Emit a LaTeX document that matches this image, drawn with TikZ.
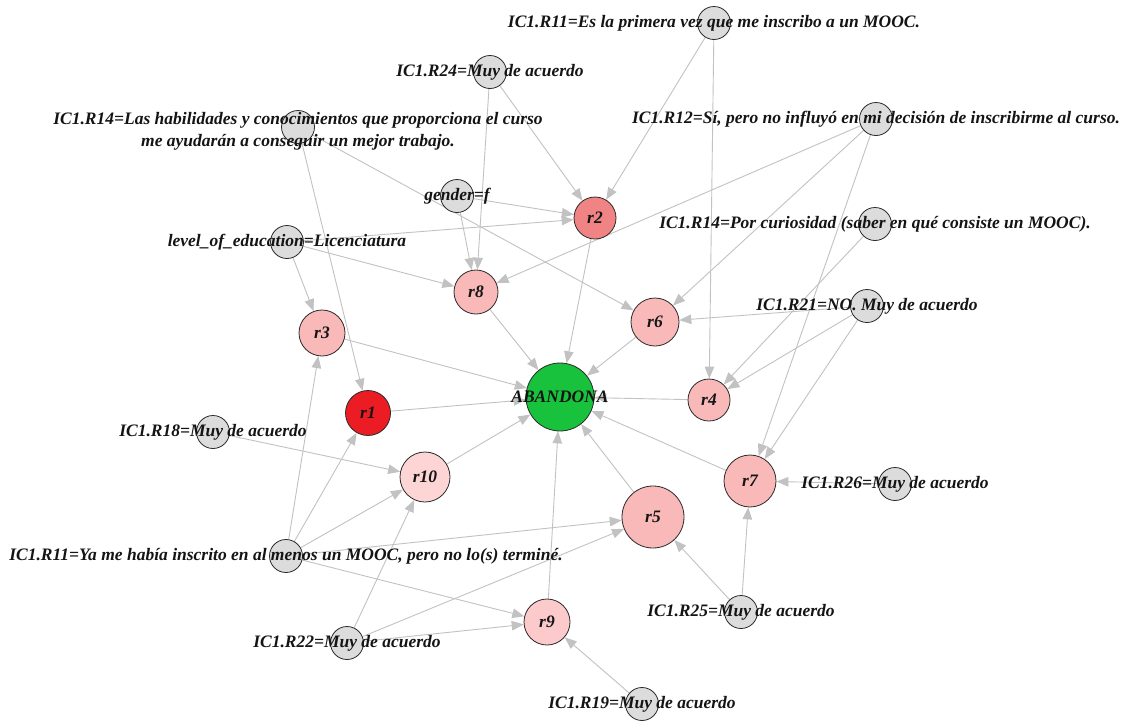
\documentclass[tikz,border=0pt]{standalone}
\usepackage{fontspec}
\setmainfont{Liberation Serif}
\usetikzlibrary{arrows.meta,backgrounds}
\definecolor{edgecol}{HTML}{C2C2C2}
\definecolor{grayfill}{HTML}{DCDCDC}
\definecolor{pinkfill}{HTML}{FAB9B9}
\definecolor{pinklight}{HTML}{FCCACA}
\definecolor{salmon}{HTML}{F08484}
\definecolor{redfill}{HTML}{EC1C24}
\definecolor{greenfill}{HTML}{19C23C}
\definecolor{bordercol}{HTML}{2A2A2A}
\tikzset{
  txt/.style={font=\fontsize{17.5}{22}\selectfont\bfseries\itshape, text=black!92},
  vtx/.style={circle, draw=bordercol, line width=0.8pt, inner sep=0pt, txt},
  attr/.style={vtx, fill=grayfill, minimum size=33pt},
  rule/.style={vtx, fill=pinkfill},
  lab/.style={txt, inner sep=0pt, align=center},
  edge/.style={draw=edgecol, line width=0.9pt, -{Triangle[length=12pt,width=9.5pt]}}
}
\begin{document}
\begin{tikzpicture}[x=1pt,y=-1pt]
\useasboundingbox (0,0) rectangle (1122,721);
% attribute vertices
\node[attr] (n11a) at (714,23) {};
\node[attr] (n24) at (490,72) {};
\node[attr] (n14a) at (298,127) {};
\node[attr] (gen) at (457,196) {};
\node[attr] (lev) at (287,242) {};
\node[attr] (n12) at (876,119) {};
\node[attr] (n14b) at (875,224) {};
\node[attr] (n21) at (867,306) {};
\node[attr] (n18) at (213,432) {};
\node[attr] (n11b) at (286,556) {};
\node[attr] (n22) at (347,643) {};
\node[attr] (n26) at (895,484) {};
\node[attr] (n25) at (741,612) {};
\node[attr] (n19) at (642,704) {};
% rule vertices
\node[vtx, fill=redfill, minimum size=45pt] (r1) at (368,413) {r1};
\node[vtx, fill=salmon, minimum size=42pt] (r2) at (595,218) {r2};
\node[rule, minimum size=46pt] (r3) at (322,333) {r3};
\node[rule, minimum size=42pt] (r4) at (709,400) {r4};
\node[rule, minimum size=62pt] (r5) at (653,517) {r5};
\node[rule, minimum size=48pt] (r6) at (655,322) {r6};
\node[rule, minimum size=52pt] (r7) at (750,481) {r7};
\node[rule, minimum size=44pt] (r8) at (476,292) {r8};
\node[vtx, fill=pinklight, minimum size=46pt] (r9) at (547,622) {r9};
\node[vtx, fill=pinklight!80!white, minimum size=50pt] (r10) at (425,477) {r10};
\node[vtx, fill=greenfill, minimum size=68pt] (ab) at (560,397) {};
% labels
\node[lab] (t11a) at (n11a) {IC1.R11=Es la primera vez que me inscribo a un MOOC.};
\node[lab] (t24) at (n24) {IC1.R24=Muy de acuerdo};
\node[lab] (t14a) at (298,131) {IC1.R14=Las habilidades y conocimientos que proporciona el curso\\me ayudarán a conseguir un mejor trabajo.};
\node[lab] (tgen) at (gen) {gender=f};
\node[lab] (tlev) at (lev) {level\_of\_education=Licenciatura};
\node[lab] (t12) at (n12) {IC1.R12=Sí, pero no influyó en mi decisión de inscribirme al curso.};
\node[lab] (t14b) at (n14b) {IC1.R14=Por curiosidad (saber en qué consiste un MOOC).};
\node[lab] (t21) at (n21) {IC1.R21=NO. Muy de acuerdo};
\node[lab] (t18) at (n18) {IC1.R18=Muy de acuerdo};
\node[lab] (t11b) at (n11b) {IC1.R11=Ya me había inscrito en al menos un MOOC, pero no lo(s) terminé.};
\node[lab] (t22) at (n22) {IC1.R22=Muy de acuerdo};
\node[lab] (t26) at (n26) {IC1.R26=Muy de acuerdo};
\node[lab] (t25) at (n25) {IC1.R25=Muy de acuerdo};
\node[lab] (t19) at (n19) {IC1.R19=Muy de acuerdo};
\node[lab] (tab) at (ab) {ABANDONA};
% edges
\begin{pgfonlayer}{background}
\fill[white] (0,0) rectangle (1122,721);
\foreach \a/\b in {n11a/r2, n11a/r4, n24/r2, n24/r8, n14a/r1, n14a/r6,
  gen/r2, gen/r8, lev/r2, lev/r8, lev/r3, n12/r8, n12/r6, n12/r7,
  n14b/r4, n21/r6, n21/r4, n21/r7, n18/r10,
  n11b/r3, n11b/r1, n11b/r10, n11b/r5, n11b/r9,
  n22/r10, n22/r5, n22/r9, n26/r7, n25/r7, n25/r5, n19/r9,
  r1/ab, r2/ab, r3/ab, r4/ab, r5/ab, r6/ab, r7/ab, r8/ab, r9/ab, r10/ab}
  \draw[edge] (\a) -- (\b);
\end{pgfonlayer}
\end{tikzpicture}
\end{document}
